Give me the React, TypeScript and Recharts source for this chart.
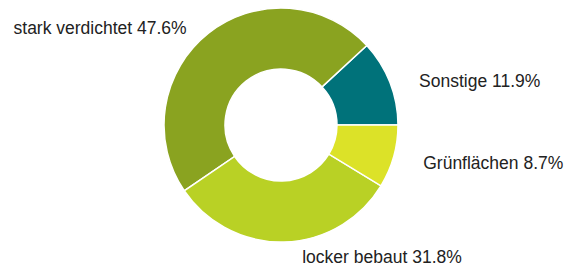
import { PieChart, Pie, Cell } from "recharts";

// Slice order runs counter-clockwise from 3 o'clock
const categories = ["Sonstige", "stark verdichtet", "locker bebaut", "Grünflächen"];
const shares = [11.9, 47.6, 31.8, 8.7];
const colors = ["#00727a", "#8aa320", "#b9d125", "#dce228"];

const data = categories.map((name, i) => ({ name, value: shares[i] }));

const RAD = Math.PI / 180;

function renderLabel(props: any) {
  const { cx, cy, midAngle, outerRadius, name, value } = props;
  const r = outerRadius + 12;
  const cos = Math.cos(-midAngle * RAD);
  const sin = Math.sin(-midAngle * RAD);
  const right = cos >= -0.1;
  const x = cx + r * cos + (right ? 18 : -14);
  const y = cy + r * sin + 3.5;
  return (
    <text
      x={x}
      y={y}
      textAnchor={right ? "start" : "end"}
      dominantBaseline="central"
      fill="#222"
      fontSize={17.5}
      fontFamily="'Liberation Sans', Arial, sans-serif"
    >
      {`${name} ${value.toFixed(1)}%`}
    </text>
  );
}

export default function App() {
  return (
    <div style={{ position: "absolute", left: 0, top: 0, background: "#fff" }}>
      <PieChart width={579} height={271} margin={{ top: 0, right: 0, bottom: 0, left: 0 }}>
        <Pie
          data={data}
          dataKey="value"
          nameKey="name"
          cx={281}
          cy={125}
          innerRadius={56}
          outerRadius={117}
          startAngle={0}
          endAngle={360}
          stroke="#fff"
          strokeWidth={1.5}
          label={renderLabel}
          labelLine={false}
          isAnimationActive={false}
        >
          {data.map((d, i) => (
            <Cell key={d.name} fill={colors[i]} />
          ))}
        </Pie>
      </PieChart>
    </div>
  );
}
